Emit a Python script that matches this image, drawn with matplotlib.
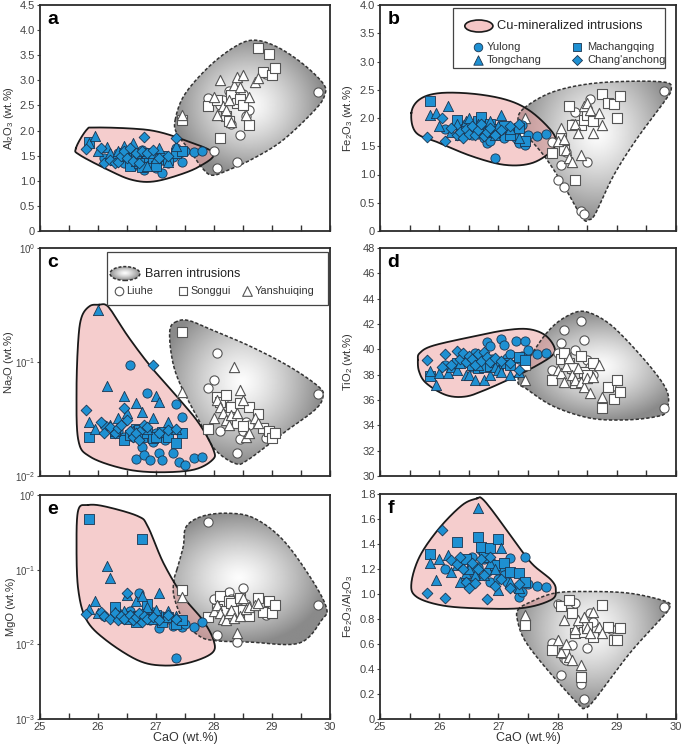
import numpy as np
import matplotlib
matplotlib.use('Agg')
import matplotlib.pyplot as plt
from matplotlib.path import Path
from matplotlib.patches import PathPatch, Ellipse, Rectangle
from matplotlib.ticker import NullLocator, FixedLocator

plt.rcParams['font.family'] = ['Liberation Sans', 'DejaVu Sans']
plt.rcParams['mathtext.default'] = 'regular'

# ---------------- data (CaO shared per intrusion) ----------------
YL_CAO = [26.1, 26.35, 26.45, 26.55, 26.6, 26.65, 26.7, 26.75, 26.8, 26.85, 26.9, 26.95, 27.0, 27.05, 27.1, 27.15, 27.2, 27.3, 27.35, 27.4, 27.45, 27.5, 27.65, 27.8]
YL_AL2O3 = [1.45, 1.55, 1.35, 1.6, 1.3, 1.5, 1.4, 1.62, 1.21, 1.45, 1.3, 1.55, 1.25, 1.4, 1.15, 1.5, 1.35, 1.48, 1.65, 1.55, 1.38, 1.6, 1.58, 1.6]
YL_FE2O3 = [1.8, 1.75, 1.9, 1.7, 1.85, 1.72, 1.8, 1.65, 1.56, 1.6, 1.75, 1.3, 1.7, 1.85, 1.65, 1.8, 1.78, 1.65, 1.56, 1.88, 1.53, 1.7, 1.68, 1.71]
YL_NA2O = [0.028, 0.025, 0.022, 0.094, 0.022, 0.014, 0.025, 0.018, 0.0153, 0.054, 0.0138, 0.020, 0.024, 0.0158, 0.0138, 0.0207, 0.022, 0.0158, 0.0426, 0.0134, 0.0326, 0.0125, 0.0143, 0.0148]
YL_TIO2 = [38.8, 39.0, 39.3, 38.6, 39.7, 39.0, 38.9, 39.4, 40.54, 40.28, 39.2, 38.9, 38.9, 40.8, 40.33, 39.3, 39.6, 40.62, 39.2, 39.5, 40.62, 39.96, 39.65, 39.7]
YL_MGO = [0.024, 0.026, 0.022, 0.028, 0.021, 0.024, 0.048, 0.022, 0.026, 0.023, 0.021, 0.027, 0.022, 0.0165, 0.024, 0.021, 0.023, 0.0177, 0.0066, 0.019, 0.0173, 0.019, 0.0173, 0.0202]
YL_FEAL = [1.2, 1.25, 1.1, 1.3, 1.15, 1.22, 1.35, 1.28, 1.18, 1.1, 1.25, 1.2, 1.12, 1.22, 1.15, 1.1, 1.29, 1.05, 0.98, 1.02, 1.30, 1.08, 1.065, 1.06]

TC_CAO = [25.85, 25.95, 26.0, 26.15, 26.2, 26.3, 26.35, 26.45, 26.5, 26.6, 26.65, 26.75, 26.85, 26.95, 27.0, 27.05, 27.2, 27.35]
TC_AL2O3 = [1.75, 1.89, 1.6, 1.68, 1.55, 1.45, 1.6, 1.7, 1.5, 1.75, 1.4, 1.6, 1.3, 1.55, 1.45, 1.65, 1.38, 1.7]
TC_FE2O3 = [2.05, 2.09, 1.85, 2.22, 1.75, 1.9, 1.7, 1.95, 2.0, 1.8, 1.9, 1.75, 1.95, 1.7, 1.85, 2.06, 1.8, 1.65]
TC_NA2O = [0.030, 0.026, 0.283, 0.061, 0.028, 0.025, 0.032, 0.050, 0.036, 0.025, 0.044, 0.0367, 0.026, 0.032, 0.050, 0.0444, 0.030, 0.026]
TC_TIO2 = [38.3, 37.2, 38.1, 38.1, 38.6, 38.4, 38.9, 38.0, 38.0, 37.6, 38.8, 37.6, 38.0, 38.6, 38.4, 38.25, 37.98, 38.2]
TC_MGO = [0.030, 0.0375, 0.026, 0.112, 0.077, 0.027, 0.025, 0.028, 0.046, 0.024, 0.038, 0.044, 0.032, 0.025, 0.029, 0.0494, 0.028, 0.024]
TC_FEAL = [1.25, 1.11, 1.28, 1.31, 1.18, 1.23, 1.1, 1.166, 1.2, 1.15, 1.685, 1.15, 1.25, 1.2, 1.03, 1.366, 1.1, 1.05]

MC_CAO = [25.85, 26.3, 26.45, 26.55, 26.65, 26.7, 26.75, 26.85, 26.95, 27.0, 27.1, 27.2, 27.35, 27.45]
MC_AL2O3 = [1.78, 1.42, 1.55, 1.3, 1.5, 1.35, 1.28, 1.55, 1.45, 1.3, 1.5, 1.42, 1.55, 1.6]
MC_FE2O3 = [2.30, 1.97, 1.8, 1.75, 1.95, 2.02, 1.85, 1.9, 1.75, 1.8, 1.85, 1.7, 1.82, 1.6]
MC_NA2O = [0.022, 0.024, 0.0207, 0.023, 0.026, 0.0254, 0.022, 0.024, 0.0214, 0.0221, 0.0245, 0.022, 0.0196, 0.024]
MC_TIO2 = [37.9, 38.9, 39.1, 38.8, 38.5, 39.3, 38.6, 38.7, 39.0, 38.6, 38.9, 38.78, 39.4, 39.17]
MC_MGO = [0.47, 0.032, 0.024, 0.022, 0.02, 0.024, 0.26, 0.035, 0.022, 0.025, 0.02, 0.023, 0.019, 0.021]
MC_FEAL = [1.32, 1.42, 1.28, 1.2, 1.46, 1.38, 1.3, 1.37, 1.23, 1.44, 1.25, 1.18, 1.166, 1.1]

CA_CAO = [25.8, 26.05, 26.1, 26.2, 26.3, 26.35, 26.4, 26.45, 26.5, 26.55, 26.6, 26.65, 26.7, 26.75, 26.8, 26.85, 26.95, 27.05, 27.2, 27.35]
CA_AL2O3 = [1.63, 1.66, 1.35, 1.42, 1.35, 1.38, 1.5, 1.6, 1.45, 1.65, 1.4, 1.55, 1.35, 1.6, 1.88, 1.55, 1.62, 1.45, 1.5, 1.86]
CA_FE2O3 = [1.67, 2.0, 1.59, 1.83, 1.7, 1.75, 1.65, 1.8, 1.72, 1.85, 1.7, 1.78, 1.9, 1.68, 1.75, 1.82, 1.7, 1.78, 1.85, 1.9]
CA_NA2O = [0.038, 0.030, 0.0237, 0.027, 0.0237, 0.0262, 0.028, 0.0393, 0.031, 0.025, 0.022, 0.0237, 0.0207, 0.026, 0.028, 0.0271, 0.094, 0.0237, 0.0254, 0.026]
CA_TIO2 = [39.12, 38.6, 39.65, 38.8, 39.9, 39.2, 39.7, 39.0, 39.5, 39.2, 38.8, 39.6, 39.1, 39.8, 39.4, 39.0, 39.3, 39.1, 38.9, 38.38]
CA_MGO = [0.0254, 0.027, 0.024, 0.022, 0.026, 0.021, 0.024, 0.022, 0.048, 0.025, 0.021, 0.023, 0.026, 0.02, 0.024, 0.022, 0.023, 0.021, 0.025, 0.022]
CA_FEAL = [1.01, 1.51, 0.966, 1.27, 1.24, 1.3, 1.2, 1.1, 1.046, 1.25, 1.086, 1.2, 1.28, 1.15, 0.958, 1.3, 1.065, 1.12, 1.046, 1.08]

LH_CAO = [27.9, 28.0, 28.05, 28.1, 28.15, 28.25, 28.3, 28.4, 28.45, 28.5, 28.55, 28.6, 28.9, 29.8]
LH_AL2O3 = [2.64, 1.6, 1.25, 2.5, 2.6, 2.79, 2.13, 1.38, 1.91, 2.73, 2.28, 2.4, 3.13, 2.77]
LH_FE2O3 = [1.57, 0.91, 1.17, 0.78, 1.4, 1.9, 2.1, 0.36, 0.30, 1.23, 2.34, 2.0, 2.25, 2.48]
LH_NA2O = [0.0589, 0.069, 0.12, 0.025, 0.045, 0.035, 0.039, 0.016, 0.021, 0.025, 0.03, 0.028, 0.0214, 0.0525]
LH_TIO2 = [38.4, 39.7, 40.5, 41.55, 39.57, 38.4, 39.96, 42.26, 40.75, 39.17, 38.6, 38.0, 37.0, 35.35]
LH_MGO = [0.44, 0.04, 0.0134, 0.03, 0.035, 0.051, 0.04, 0.0109, 0.03, 0.0565, 0.035, 0.028, 0.0248, 0.0338]
LH_FEAL = [0.607, 0.92, 0.354, 0.487, 0.474, 0.594, 0.93, 0.282, 0.16, 0.567, 0.85, 0.78, 0.72, 0.895]

SG_CAO = [27.45, 27.9, 28.05, 28.1, 28.2, 28.25, 28.3, 28.4, 28.45, 28.5, 28.6, 28.75, 28.85, 28.95, 29.0, 29.05]
SG_AL2O3 = [2.21, 2.49, 2.6, 1.85, 2.28, 2.2, 2.7, 2.55, 2.62, 2.5, 2.11, 3.64, 3.17, 3.52, 3.1, 3.24]
SG_FE2O3 = [1.66, 1.38, 1.65, 1.44, 2.21, 1.87, 0.91, 1.88, 1.97, 2.06, 1.94, 2.42, 2.27, 2.25, 2.0, 2.39]
SG_NA2O = [0.185, 0.0257, 0.0498, 0.045, 0.0515, 0.034, 0.0406, 0.029, 0.0435, 0.0275, 0.0406, 0.035, 0.0262, 0.025, 0.0214, 0.024]
SG_TIO2 = [38.78, 37.6, 39.2, 39.7, 38.9, 38.5, 37.33, 39.5, 38.25, 37.98, 38.9, 35.35, 37.06, 36.06, 37.59, 36.6]
SG_MGO = [0.0537, 0.0231, 0.03, 0.044, 0.028, 0.0375, 0.0357, 0.028, 0.0415, 0.029, 0.0236, 0.0415, 0.027, 0.0375, 0.0266, 0.034]
SG_FEAL = [0.753, 0.554, 0.905, 0.527, 0.953, 0.847, 0.687, 0.335, 0.7, 0.74, 0.66, 0.913, 0.74, 0.634, 0.634, 0.727]

YS_CAO = [27.45, 28.0, 28.05, 28.1, 28.15, 28.2, 28.25, 28.3, 28.35, 28.4, 28.45, 28.5, 28.55, 28.6, 28.7, 28.75]
YS_AL2O3 = [2.3, 2.67, 2.31, 3.0, 2.49, 2.4, 2.6, 2.18, 2.9, 3.06, 2.87, 3.1, 2.31, 2.67, 2.97, 3.04]
YS_FE2O3 = [2.0, 1.6, 1.83, 1.62, 1.44, 1.29, 1.23, 1.9, 1.74, 1.35, 2.21, 2.27, 2.15, 1.74, 2.09, 1.88]
YS_NA2O = [0.055, 0.0322, 0.0465, 0.04, 0.036, 0.031, 0.028, 0.034, 0.091, 0.036, 0.057, 0.0465, 0.022, 0.0237, 0.0322, 0.029]
YS_TIO2 = [37.54, 38.4, 38.1, 37.46, 38.65, 39.3, 38.0, 37.6, 38.5, 37.46, 37.06, 37.7, 36.55, 37.85, 38.78, 36.27]
YS_MGO = [0.0428, 0.028, 0.034, 0.026, 0.022, 0.0213, 0.026, 0.029, 0.0225, 0.0141, 0.0236, 0.0415, 0.03, 0.032, 0.034, 0.036]
YS_FEAL = [0.833, 0.634, 0.54, 0.793, 0.6, 0.5, 0.474, 0.72, 0.793, 0.434, 0.82, 0.727, 0.687, 0.86, 0.74, 0.687]

# ---------------- field envelopes (data coordinates) ----------------
A_CU_X = [25.62, 25.8, 25.94, 26.58, 27.02, 27.49, 27.99, 27.74, 27.3, 26.91, 26.58, 26.24, 25.69]
A_CU_Y = [1.65, 2.01, 2.06, 2.04, 1.98, 1.81, 1.55, 1.28, 1.08, 0.98, 1.02, 1.18, 1.51]
A_BA_X = [27.33, 27.49, 27.91, 28.36, 28.69, 29.08, 29.52, 29.88, 29.91, 29.74, 29.19, 28.69, 28.24, 27.97, 27.8, 27.58, 27.36]
A_BA_Y = [2.21, 2.71, 3.27, 3.67, 3.8, 3.67, 3.34, 2.94, 2.71, 2.41, 1.81, 1.45, 1.21, 1.11, 1.25, 1.61, 1.94]

B_CU_X = [25.53, 25.67, 26.0, 26.56, 27.11, 27.5, 27.83, 27.97, 27.89, 27.56, 27.11, 26.56, 26.0, 25.61]
B_CU_Y = [2.09, 2.33, 2.44, 2.43, 2.33, 2.15, 1.85, 1.62, 1.41, 1.2, 1.17, 1.32, 1.56, 1.74]
B_BA_X = [27.44, 27.89, 28.5, 29.22, 29.83, 29.92, 29.83, 29.33, 28.94, 28.64, 28.53, 28.42, 28.11, 27.78, 27.44, 27.33]
B_BA_Y = [2.18, 2.45, 2.6, 2.65, 2.63, 2.51, 2.33, 1.62, 0.97, 0.31, 0.2, 0.23, 0.79, 1.32, 1.74, 1.97]

C_CU_X = [26.02, 25.86, 25.72, 25.66, 25.63, 25.66, 25.86, 26.41, 26.97, 27.63, 27.97, 27.99, 27.74, 27.36, 26.91, 26.52, 26.24, 26.13]
C_CU_Y = [0.318, 0.31, 0.25, 0.156, 0.057, 0.0207, 0.0148, 0.0117, 0.0108, 0.0113, 0.0138, 0.017, 0.029, 0.0498, 0.0911, 0.167, 0.277, 0.318]
C_BA_X = [27.36, 27.24, 27.27, 27.41, 27.8, 28.02, 28.36, 28.58, 29.19, 29.74, 29.88, 29.8, 29.3, 28.63, 28.02, 27.58]
C_BA_Y = [0.227, 0.192, 0.112, 0.065, 0.027, 0.017, 0.0129, 0.0138, 0.0237, 0.038, 0.05, 0.061, 0.0912, 0.137, 0.186, 0.23]

D_CU_X = [25.64, 25.67, 25.89, 26.56, 27.11, 27.5, 27.78, 27.94, 27.92, 27.67, 27.28, 26.78, 26.44, 26.11, 25.78, 25.66]
D_CU_Y = [39.17, 39.7, 40.28, 41.0, 41.5, 41.6, 41.15, 40.23, 39.57, 38.78, 37.85, 36.8, 36.27, 36.4, 37.33, 38.25]
D_BA_X = [27.33, 27.61, 27.89, 28.17, 28.44, 28.78, 29.11, 29.61, 29.86, 29.83, 29.67, 29.17, 28.56, 27.94, 27.5]
D_BA_Y = [37.6, 39.96, 41.68, 42.65, 43.0, 42.33, 41.0, 38.38, 36.54, 35.09, 34.69, 34.43, 34.56, 35.48, 36.8]

E_CU_X = [25.83, 25.66, 25.63, 25.66, 25.8, 26.13, 26.69, 27.13, 27.58, 27.97, 27.99, 27.8, 27.47, 27.13, 26.86, 26.69, 26.13]
E_CU_Y = [0.736, 0.63, 0.204, 0.0537, 0.0214, 0.0115, 0.0061, 0.0052, 0.0057, 0.0077, 0.0115, 0.0214, 0.0435, 0.122, 0.376, 0.52, 0.7]
E_BA_X = [27.36, 27.47, 27.52, 27.8, 28.24, 28.69, 29.19, 29.69, 29.94, 29.86, 29.47, 28.63, 28.02, 27.74, 27.47, 27.31, 27.31]
E_BA_Y = [0.1, 0.204, 0.376, 0.52, 0.57, 0.49, 0.25, 0.073, 0.0305, 0.0213, 0.0104, 0.0107, 0.0112, 0.013, 0.0214, 0.0435, 0.073]

F_CU_X = [26.64, 26.39, 26.0, 25.67, 25.53, 25.61, 26.0, 26.56, 27.39, 27.89, 27.97, 27.89, 27.56, 27.22, 26.89, 26.72]
F_CU_Y = [1.765, 1.712, 1.526, 1.3, 1.086, 0.98, 0.913, 0.887, 0.887, 0.953, 1.033, 1.113, 1.246, 1.459, 1.672, 1.765]
F_BA_X = [27.33, 27.5, 27.94, 28.5, 29.22, 29.83, 29.89, 29.78, 29.22, 28.67, 28.47, 28.33, 27.78, 27.44, 27.32]
F_BA_Y = [0.873, 0.927, 1.006, 1.02, 1.006, 0.94, 0.887, 0.82, 0.527, 0.181, 0.088, 0.128, 0.42, 0.634, 0.793]

# ---------------- styling ----------------
BLUE = '#1e90d2'
BLUE_EDGE = '#1b3550'
OPEN_EDGE = '#555555'
PINK = '#eda4a4'

W, H = 685, 748
fig = plt.figure(figsize=(W / 100, H / 100), dpi=100)


def px_axes(l, t, r, b):
    return fig.add_axes([l / W, 1 - b / H, (r - l) / W, (b - t) / H])


def smooth_closed(px, py, n=30):
    P = np.column_stack([px, py])
    N = len(P)
    out = []
    t = np.linspace(0, 1, n, endpoint=False)[:, None]
    for i in range(N):
        p0, p1, p2, p3 = P[i - 1], P[i], P[(i + 1) % N], P[(i + 2) % N]
        out.append(0.5 * (2 * p1 + (p2 - p0) * t + (2 * p0 - 5 * p1 + 4 * p2 - p3) * t ** 2
                          + (-p0 + 3 * p1 - 3 * p2 + p3) * t ** 3))
    out = np.vstack(out)
    return np.vstack([out, out[:1]])


def to_frac(x, y, ylim, logy):
    u = (np.asarray(x) - 25.0) / 5.0
    if logy:
        v = (np.log10(y) - np.log10(ylim[0])) / (np.log10(ylim[1]) - np.log10(ylim[0]))
    else:
        v = (np.asarray(y) - ylim[0]) / (ylim[1] - ylim[0])
    return u, v


def from_frac(u, v, ylim, logy):
    x = 25.0 + 5.0 * u
    if logy:
        y = 10 ** (np.log10(ylim[0]) + v * (np.log10(ylim[1]) - np.log10(ylim[0])))
    else:
        y = ylim[0] + v * (ylim[1] - ylim[0])
    return x, y


def draw_fields(ax, cux, cuy, bax, bay, ylim, logy):
    # barren field: radial grey gradient, dashed outline
    u, v = to_frac(bax, bay, ylim, logy)
    s = smooth_closed(u, v)
    xd, yd = from_frac(s[:, 0], s[:, 1], ylim, logy)
    patch = PathPatch(Path(np.column_stack([xd, yd])), facecolor='none', edgecolor='none',
                      transform=ax.transData)
    ax.add_patch(patch)
    cx, cy = s[:, 0].mean() + 0.02, s[:, 1].mean() + 0.02
    rx = np.abs(s[:, 0] - cx).max()
    ry = np.abs(s[:, 1] - cy).max()
    U, V = np.meshgrid(np.linspace(0, 1, 400), np.linspace(0, 1, 400))
    r = np.sqrt(((U - cx) / rx) ** 2 + ((V - cy) / ry) ** 2)
    g = 0.99 - 0.45 * np.clip(r, 0, 1) ** 1.3
    im = ax.imshow(g, extent=(0, 1, 0, 1), origin='lower', transform=ax.transAxes,
                   cmap='gray', vmin=0, vmax=1, aspect='auto', interpolation='bilinear', zorder=1)
    im.set_clip_path(patch)
    # mineralized field: pink
    u2, v2 = to_frac(cux, cuy, ylim, logy)
    s2 = smooth_closed(u2, v2)
    xc, yc = from_frac(s2[:, 0], s2[:, 1], ylim, logy)
    ax.fill(xc, yc, color=PINK, alpha=0.55, lw=0, zorder=2)
    ax.plot(xd, yd, color='#333333', lw=1.1, ls=(0, (2.2, 1.3)), zorder=3)
    ax.plot(xc, yc, color='#1a1a1a', lw=1.3, zorder=3.1)


def draw_points(ax, ys):
    yl, tc, mc, ca, lh, sg, ysq = ys
    kw_b = dict(facecolor=BLUE, edgecolor=BLUE_EDGE, linewidths=0.6, zorder=4)
    kw_w = dict(facecolor='white', edgecolor=OPEN_EDGE, linewidths=0.8, zorder=4)
    ax.scatter(LH_CAO, lh, marker='o', s=44, **kw_w)
    ax.scatter(SG_CAO, sg, marker='s', s=42, **kw_w)
    ax.scatter(YS_CAO, ysq, marker='^', s=54, **kw_w)
    ax.scatter(YL_CAO, yl, marker='o', s=44, **kw_b)
    ax.scatter(MC_CAO, mc, marker='s', s=42, **kw_b)
    ax.scatter(TC_CAO, tc, marker='^', s=54, **kw_b)
    ax.scatter(CA_CAO, ca, marker='D', s=30, **kw_b)


def style_axes(ax, letter, ylabel, ylim, logy, yticks, yticklabels, bottom):
    ax.set_xlim(25, 30)
    if logy:
        ax.set_yscale('log')
    ax.set_ylim(*ylim)
    ax.set_autoscale_on(False)
    ax.set_xticks(np.arange(25, 30.01, 0.5))
    if bottom:
        ax.set_xticklabels(['25', '', '26', '', '27', '', '28', '', '29', '', '30'])
        ax.set_xlabel('CaO (wt.%)', fontsize=9, color='#333333', labelpad=0)
    else:
        ax.set_xticklabels([''] * 11)
    ax.yaxis.set_major_locator(FixedLocator(yticks))
    ax.yaxis.set_minor_locator(NullLocator())
    ax.set_yticklabels(yticklabels)
    ax.tick_params(axis='x', direction='in', length=4, width=1, color='#333333',
                   labelsize=8, labelcolor='#444444', pad=2.5)
    ax.tick_params(axis='y', direction='out', length=2.5, width=0.8, color='#444444',
                   labelsize=7 if logy else 8, labelcolor='#444444', pad=1)
    ax.set_ylabel(ylabel, fontsize=8, color='#333333')
    ax.yaxis.set_label_coords(-0.083, 0.5)
    for sp in ax.spines.values():
        sp.set_color('#2b2b2b')
        sp.set_linewidth(1.3)
    ax.text(0.025, 0.935, letter, transform=ax.transAxes, fontsize=14, fontweight='bold',
            ha='left', va='center', zorder=8)


def lin_labels(vals, dec):
    return ['0' if v == 0 else (f'{v:.{dec}f}') for v in vals]


panels = [
    ('a', (40, 5, 330, 231), 'Al$_2$O$_3$ (wt.%)', (0, 4.5), False,
     [YL_AL2O3, TC_AL2O3, MC_AL2O3, CA_AL2O3, LH_AL2O3, SG_AL2O3, YS_AL2O3],
     (A_CU_X, A_CU_Y, A_BA_X, A_BA_Y), np.arange(0, 4.51, 0.5), 1, False),
    ('b', (380, 5, 676, 231), 'Fe$_2$O$_3$ (wt.%)', (0, 4.0), False,
     [YL_FE2O3, TC_FE2O3, MC_FE2O3, CA_FE2O3, LH_FE2O3, SG_FE2O3, YS_FE2O3],
     (B_CU_X, B_CU_Y, B_BA_X, B_BA_Y), np.arange(0, 4.01, 0.5), 1, False),
    ('c', (40, 248, 330, 476), 'Na$_2$O (wt.%)', (1e-2, 1e0), True,
     [YL_NA2O, TC_NA2O, MC_NA2O, CA_NA2O, LH_NA2O, SG_NA2O, YS_NA2O],
     (C_CU_X, C_CU_Y, C_BA_X, C_BA_Y), [1e-2, 1e-1, 1e0], None, False),
    ('d', (380, 248, 676, 476), 'TiO$_2$ (wt.%)', (30, 48), False,
     [YL_TIO2, TC_TIO2, MC_TIO2, CA_TIO2, LH_TIO2, SG_TIO2, YS_TIO2],
     (D_CU_X, D_CU_Y, D_BA_X, D_BA_Y), np.arange(30, 48.1, 2), 0, False),
    ('e', (40, 495, 330, 719), 'MgO (wt.%)', (1e-3, 1e0), True,
     [YL_MGO, TC_MGO, MC_MGO, CA_MGO, LH_MGO, SG_MGO, YS_MGO],
     (E_CU_X, E_CU_Y, E_BA_X, E_BA_Y), [1e-3, 1e-2, 1e-1, 1e0], None, True),
    ('f', (380, 494, 676, 719), 'Fe$_2$O$_3$/Al$_2$O$_3$', (0, 1.8), False,
     [YL_FEAL, TC_FEAL, MC_FEAL, CA_FEAL, LH_FEAL, SG_FEAL, YS_FEAL],
     (F_CU_X, F_CU_Y, F_BA_X, F_BA_Y), np.arange(0, 1.81, 0.2), 1, True),
]

axes = {}
for letter, box, ylabel, ylim, logy, ys, env, yt, dec, bottom in panels:
    ax = px_axes(*box)
    axes[letter] = ax
    if logy:
        labels = ['$10^{%d}$' % int(round(np.log10(v))) for v in yt]
    else:
        labels = lin_labels(yt, dec)
    style_axes(ax, letter, ylabel, ylim, logy, list(yt), labels, bottom)
    draw_fields(ax, env[0], env[1], env[2], env[3], ylim, logy)
    draw_points(ax, ys)

# ---------------- legend: Cu-mineralized (panel b) ----------------
ax = axes['b']
T = ax.transAxes
ax.add_patch(Rectangle((0.247, 0.721), 0.716, 0.266, transform=T, facecolor='white',
                       edgecolor='#444444', lw=0.9, zorder=6))
ax.add_patch(Ellipse((0.334, 0.907), 0.095, 0.053, transform=T, facecolor='#f5c6c6',
                     edgecolor='#1a1a1a', lw=1.2, zorder=7))
ax.text(0.395, 0.907, 'Cu-mineralized intrusions', transform=T, fontsize=9.3,
        va='center', ha='left', color='#222222', zorder=7)
leg_kw = dict(transform=T, facecolor=BLUE, edgecolor=BLUE_EDGE, linewidths=0.6, zorder=7, clip_on=False)
ax.scatter([0.331], [0.814], marker='o', s=38, **leg_kw)
ax.scatter([0.331], [0.757], marker='^', s=46, **leg_kw)
ax.scatter([0.666], [0.814], marker='s', s=36, **leg_kw)
ax.scatter([0.666], [0.757], marker='D', s=26, **leg_kw)
for xx, yy, tt in [(0.362, 0.814, 'Yulong'), (0.362, 0.757, 'Tongchang'),
                   (0.699, 0.814, 'Machangqing'), (0.699, 0.757, "Chang'anchong")]:
    ax.text(xx, yy, tt, transform=T, fontsize=8, va='center', ha='left',
            color='#333333', zorder=7)

# ---------------- legend: Barren (panel c) ----------------
ax = axes['c']
T = ax.transAxes
ax.add_patch(Rectangle((0.231, 0.75), 0.762, 0.232, transform=T, facecolor='white',
                       edgecolor='#444444', lw=0.9, zorder=6))
ell = Ellipse((0.293, 0.888), 0.103, 0.061, transform=T, facecolor='none',
              edgecolor='#333333', lw=1.1, ls=(0, (2.0, 1.2)), zorder=8)
ax.add_patch(ell)
Ug, Vg = np.meshgrid(np.linspace(-1, 1, 80), np.linspace(-1, 1, 80))
gl = 0.99 - 0.42 * np.clip(np.sqrt(Ug ** 2 + Vg ** 2), 0, 1) ** 1.3
img = ax.imshow(gl, extent=(0.293 - 0.0515, 0.293 + 0.0515, 0.888 - 0.0305, 0.888 + 0.0305),
                origin='lower', transform=T, cmap='gray', vmin=0, vmax=1, aspect='auto', zorder=7)
clip_ell = Ellipse((0.293, 0.888), 0.103, 0.061, transform=T, facecolor='none', edgecolor='none')
ax.add_patch(clip_ell)
img.set_clip_path(clip_ell)
ax.text(0.362, 0.888, 'Barren intrusions', transform=T, fontsize=9, va='center',
        ha='left', color='#222222', zorder=8)
leg_kw2 = dict(transform=T, facecolor='white', edgecolor=OPEN_EDGE, linewidths=0.8, zorder=8, clip_on=False)
ax.scatter([0.272], [0.811], marker='o', s=38, **leg_kw2)
ax.scatter([0.493], [0.811], marker='s', s=36, **leg_kw2)
ax.scatter([0.713], [0.811], marker='^', s=48, **leg_kw2)
for xx, tt in [(0.297, 'Liuhe'), (0.52, 'Songgui'), (0.741, 'Yanshuiqing')]:
    ax.text(xx, 0.811, tt, transform=T, fontsize=7.8, va='center', ha='left',
            color='#333333', zorder=8)

fig.savefig('out.png', dpi=100)
